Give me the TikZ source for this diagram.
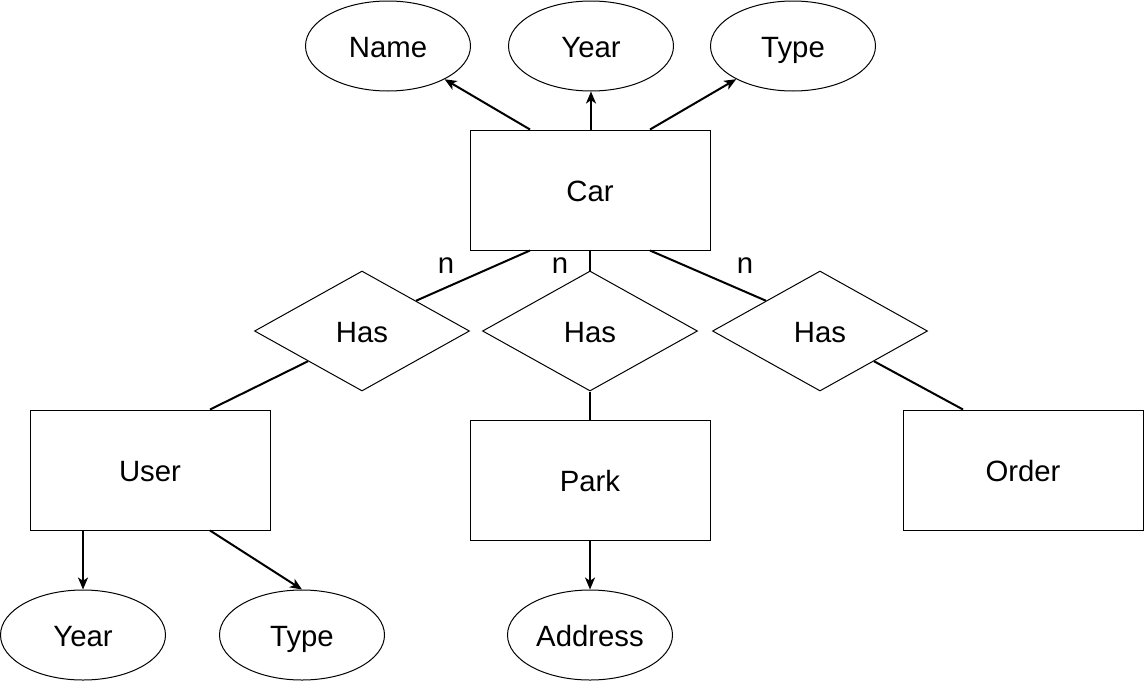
\documentclass[tikz,border=0pt]{standalone}
\usepackage{fontspec}
\setmainfont{Liberation Sans}
\usetikzlibrary{shapes.geometric,arrows.meta,calc}
\begin{document}
\begin{tikzpicture}[x=0.75pt,y=-0.75pt,
  every node/.style={font=\fontsize{22}{26}\selectfont, inner sep=0pt, text height=16.5pt, text depth=0pt},
  entity/.style={draw, line width=0.75pt, rectangle, minimum width=180pt, minimum height=90pt},
  attr/.style={draw, line width=0.75pt, ellipse, minimum width=123.75pt, minimum height=67.5pt},
  rel/.style={draw, line width=0.75pt, diamond, minimum width=161.25pt, minimum height=90pt},
  link/.style={line width=1.5pt},
  arr/.style={line width=1.5pt, -{Stealth[length=9pt,width=7.5pt,inset=2.5pt]}}]
\useasboundingbox (0,0) rectangle (1144,682);
% entities
\node[entity] (car) at (590,190) {Car};
\node[entity] (user) at (150,470) {User};
\node[entity] (park) at (590,480) {Park};
\node[entity] (order) at (1023,470) {Order};
% attributes
\node[attr] (name) at (388,46) {Name};
\node[attr] (year) at (591,46) {Year};
\node[attr] (type) at (793,46) {Type};
\node[attr] (uyear) at (83,635) {Year};
\node[attr] (utype) at (302,635) {Type};
\node[attr] (addr) at (590,635) {Address};
% relationships
\node[rel] (d1) at (362,331) {Has};
\node[rel] (d2) at (590,331) {Has};
\node[rel] (d3) at (820,331) {Has};
% cardinality labels
\node (n1) at (446,262) {n};
\node (n2) at (560,262) {n};
\node (n3) at (745,262) {n};
% connector end points
\coordinate (cnw) at ($(car.north)+(-60,0)$);
\coordinate (cne) at ($(car.north)+(60,0)$);
\coordinate (cn) at ($(car.north)+(1,0)$);
\coordinate (csw) at ($(car.south)+(-60,0)$);
\coordinate (cse) at ($(car.south)+(60,0)$);
\coordinate (d1ne) at ($(d1.north)!0.5!(d1.east)$);
\coordinate (d1sw) at ($(d1.south)!0.5!(d1.west)$);
\coordinate (d3nw) at ($(d3.north)!0.5!(d3.west)$);
\coordinate (d3se) at ($(d3.south)!0.5!(d3.east)$);
\coordinate (un) at ($(user.north)+(60,0)$);
\coordinate (on) at ($(order.north)+(-60,0)$);
\coordinate (usw) at ($(user.south)+(-67,0)$);
\coordinate (use) at ($(user.south)+(60,0)$);
% attribute arrows
\draw[arr] (cnw) -- (name);
\draw[arr] (cn) -- (year.south);
\draw[arr] (cne) -- (type);
\draw[arr] (usw) -- (usw |- uyear.north);
\draw[arr] (use) -- (utype.north);
\draw[arr] (park.south) -- (addr.north);
% relationship links
\draw[link] (csw) -- (d1ne);
\draw[link] (car.south) -- (d2.north);
\draw[link] (cse) -- (d3nw);
\draw[link] (d1sw) -- (un);
\draw[link] (d2.south) -- (park.north);
\draw[link] (d3se) -- (on);
\end{tikzpicture}
\end{document}
